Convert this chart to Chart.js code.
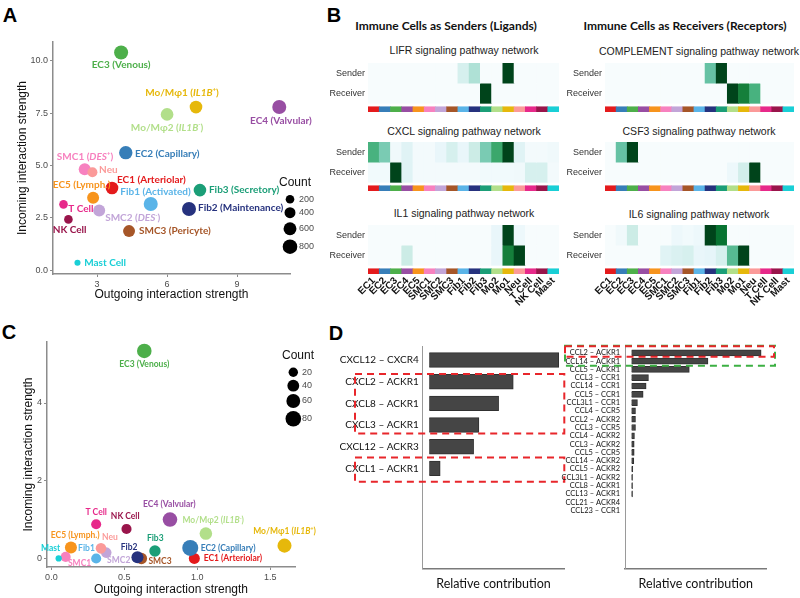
<!DOCTYPE html>
<html>
<head>
<meta charset="utf-8">
<script src="https://cdn.jsdelivr.net/npm/chart.js@4.4.1/dist/chart.umd.min.js"></script>
<style>
  body { margin: 0; width: 800px; height: 598px; position: relative; overflow: hidden; background: #fff; font-family: "Liberation Sans", Arial, sans-serif; }
  canvas { position: absolute; }
  .txt { position: absolute; white-space: nowrap; transform: translate(-50%, -50%); line-height: 1; }
  .letter { font: bold 20px "Liberation Sans", Arial, sans-serif; color: #000; }
  .head { font: bold 12px Lato, sans-serif; color: #111; }
  .sub { font: 10.5px "Liberation Sans", Arial, sans-serif; color: #222; }
</style>
</head>
<body>
<div class="txt letter" style="left:10px;top:15px">A</div>
<div class="txt letter" style="left:334px;top:15px">B</div>
<div class="txt letter" style="left:9px;top:332px">C</div>
<div class="txt letter" style="left:336px;top:333px">D</div>

<div class="txt head" style="left:446px;top:25px">Immune Cells as Senders (Ligands)</div>
<div class="txt head" style="left:685px;top:25px">Immune Cells as Receivers (Receptors)</div>
<div class="txt sub" style="left:464px;top:50px">LIFR signaling pathway network</div>
<div class="txt sub" style="left:464px;top:131px">CXCL signaling pathway network</div>
<div class="txt sub" style="left:464px;top:213px">IL1 signaling pathway network</div>
<div class="txt sub" style="left:699px;top:51px">COMPLEMENT signaling pathway network</div>
<div class="txt sub" style="left:699px;top:131px">CSF3 signaling pathway network</div>
<div class="txt sub" style="left:699px;top:214px">IL6 signaling pathway network</div>

<canvas id="cA" width="330" height="275" style="left:0;top:30px"></canvas>
<canvas id="cC" width="330" height="268" style="left:0;top:330px"></canvas>
<canvas id="hLifr" width="239" height="49" style="left:320px;top:63px"></canvas>
<canvas id="hCxcl" width="239" height="49" style="left:320px;top:142px"></canvas>
<canvas id="hIl1" width="239" height="81" style="left:320px;top:225px"></canvas>
<canvas id="hComp" width="234" height="49" style="left:560px;top:63px"></canvas>
<canvas id="hCsf3" width="234" height="49" style="left:560px;top:142px"></canvas>
<canvas id="hIl6" width="234" height="81" style="left:560px;top:225px"></canvas>
<canvas id="dLeft" width="240" height="262" style="left:340px;top:336px"></canvas>
<canvas id="dRight" width="220" height="262" style="left:560px;top:336px"></canvas>

<script>
// cell types, shared by every panel
const cellNames = ['EC1','EC2','EC3','EC4','EC5','SMC1','SMC2','SMC3','Fib1','Fib2','Fib3','Mo2','Mo1','Neu','T Cell','NK Cell','Mast'];
const cellColors = ['#e41a1c','#377eb8','#4daf4a','#984ea3','#f7941d','#f781bf','#c2a5d8','#a65628','#5ab4e8','#26327e','#1b9e77','#b2df8a','#e6b80b','#fb9a99','#e7298a','#99154b','#19cfd6'];

// panel A : all cells
const labelsA = ['EC1 (Arteriolar)','EC2 (Capillary)','EC3 (Venous)','EC4 (Valvular)','EC5 (Lymph.)','SMC1 (_DES_^+)','SMC2 (_DES_^-)','SMC3 (Pericyte)','Fib1 (Activated)','Fib2 (Maintenance)','Fib3 (Secretory)','Mo/Mφ2 (_IL1B_^-)','Mo/Mφ1 (_IL1B_^+)','Neu','T Cell','NK Cell','Mast Cell'];
const outgoingA = [3.64, 4.23, 4.03, 10.81, 2.83, 2.47, 3.09, 4.37, 5.30, 6.94, 7.41, 6.00, 7.24, 2.80, 1.56, 1.77, 2.16];
const incomingA = [3.92, 5.61, 10.40, 7.79, 3.46, 4.82, 2.85, 1.86, 3.16, 2.92, 3.82, 7.44, 7.79, 4.67, 3.14, 2.42, 0.35];
const countA = [570, 650, 730, 730, 500, 500, 500, 500, 730, 730, 570, 570, 570, 310, 200, 200, 40];
const countLegendA = [200, 400, 600, 800];
const xTicksA = [3, 6, 9];
const yTicksA = [0, 2.5, 5, 7.5, 10];

// panel C : CXCL/CCL subset
const labelsC = ['EC1 (Arteriolar)','EC2 (Capillary)','EC3 (Venous)','EC4 (Valvular)','EC5 (Lymph.)','SMC1','SMC2','SMC3','Fib1','Fib2','Fib3','Mo/Mφ2 (_IL1B_^-)','Mo/Mφ1 (_IL1B_^+)','Neu','T Cell','NK Cell','Mast'];
const outgoingC = [0.98, 0.952, 0.637, 0.813, 0.134, 0.098, 0.376, 0.617, 0.307, 0.59, 0.71, 1.059, 1.598, 0.34, 0.307, 0.515, 0.05];
const incomingC = [0.0, 0.27, 5.34, 1.0, 0.28, 0.04, 0.15, 0.0, 0.0, 0.03, 0.19, 0.64, 0.33, 0.26, 0.88, 0.76, 0.0];
const countC = [33, 85, 68, 68, 42, 25, 29, 36, 25, 42, 36, 47, 62, 29, 25, 25, 1];
const countLegendC = [20, 40, 60, 80];
const xTicksC = [0, 0.5, 1, 1.5];
const yTicksC = [0, 2, 4];

// panel B : relative strength per cell, sender row and receiver row
const lifrSender   = [0,0,0,0,0,0,0,0,0.2,0.32,0,0,1,0,0,0,0];
const lifrReceiver = [0,0,0,0,0,0,0,0,0,0,1,0,0,0,0,0,0];
const cxclSender   = [0.6,0.45,0.05,0.15,0.03,0.03,0.1,0.2,0.1,0.25,0.45,0.65,1,0.15,0.03,0.03,0.05];
const cxclReceiver = [0.04,0.04,1,0.15,0.03,0.03,0.03,0.03,0.03,0.03,0.04,0.04,0.04,0.05,0.2,0.2,0.03];
const il1Sender    = [0,0,0,0,0,0,0,0,0,0,0,0.1,1,0.07,0,0,0];
const il1Receiver  = [0,0,0,0.25,0,0,0,0,0,0,0,0.1,0.8,1,0,0,0];
const compSender   = [0,0,0,0,0,0,0,0,0,0.5,1,0,0,0,0,0,0];
const compReceiver = [0,0,0,0,0,0,0,0,0,0,0,1,0.8,0.6,0,0,0];
const csf3Sender   = [0,0.5,1,0,0,0,0,0,0,0,0,0,0,0,0,0,0];
const csf3Receiver = [0,0,0,0,0,0,0,0,0,0,0,0.07,0.22,1,0,0,0];
const il6Sender    = [0,0.05,0.25,0,0,0,0.07,0.04,0.07,1,0.85,0,0,0,0,0,0];
const il6Receiver  = [0,0,0,0,0,0.15,0.18,0.2,0.1,0.12,0.2,0.55,1,0,0,0,0];

// panel D : ligand-receptor pairs
const cxclPairs = ['CXCL12 – CXCR4','CXCL2 – ACKR1','CXCL8 – ACKR1','CXCL3 – ACKR1','CXCL12 – ACKR3','CXCL1 – ACKR1'];
const cxclContrib = [1.0, 0.649, 0.536, 0.384, 0.343, 0.085];
const cclPairs = ['CCL2 – ACKR1','CCL14 – ACKR1','CCL5 – ACKR1','CCL3 – CCR1','CCL14 – CCR1','CCL5 – CCR1','CCL3L1 – CCR1','CCL4 – CCR5','CCL2 – ACKR2','CCL3 – CCR5','CCL4 – ACKR2','CCL3 – ACKR2','CCL5 – CCR5','CCL14 – ACKR2','CCL5 – ACKR2','CCL3L1 – ACKR2','CCL8 – ACKR1','CCL13 – ACKR1','CCL21 – ACKR4','CCL23 – CCR1'];
const cclContrib = [1.0, 0.59, 0.446, 0.131, 0.113, 0.09, 0.046, 0.031, 0.031, 0.031, 0.023, 0.021, 0.021, 0.018, 0.01, 0.008, 0.008, 0.008, 0, 0];

// label placement next to each bubble: dx, dy, align
const tagA = [[5,-8.6,'left'],[9.3,0.7,'left'],[0,12.7,'center'],[1.7,13.7,'center'],[-11.5,-13.3,'center'],[0.3,-12.7,'center'],[6,7.3,'left'],[10,0,'left'],[4.8,-12.6,'center'],[9,-1.3,'left'],[9,0,'left'],[0,13,'center'],[-14,-14.7,'center'],[6.7,-3,'left'],[4.7,4.3,'left'],[1.2,10,'center'],[6.7,0,'left']];
const tagC = [[9.3,0,'left'],[10.4,0,'left'],[0,13.6,'center'],[-0.7,-15.6,'center'],[4.3,-12.6,'center'],[13.9,6.6,'center'],[12.5,8,'center'],[7,2.4,'left'],[-9.7,-10.3,'center'],[-8.3,-10.3,'center'],[0.3,-13.3,'center'],[7.3,-13,'center'],[0,-14.6,'center'],[9,-11,'center'],[0,-12,'center'],[-1.3,-12.7,'center'],[-8,-10,'center']];

const radiusA = c => Math.sqrt(6.9 + 0.058 * c);
const radiusC = c => Math.sqrt(9.2 + 0.645 * c);

// BuGn colour ramp
const bugn = ['#f7fcfd','#e5f5f9','#ccece6','#99d8c9','#66c2a4','#41ae76','#238b45','#006d2c','#00441b'];
function hexRgb(c) { return [1, 3, 5].map(i => parseInt(c.substr(i, 2), 16)); }
function heatColor(v) {
  const t = Math.max(0, Math.min(1, v)) * (bugn.length - 1);
  const i = Math.min(Math.floor(t), bugn.length - 2);
  const f = t - i;
  const a = hexRgb(bugn[i]), b = hexRgb(bugn[i + 1]);
  return 'rgb(' + a.map((x, k) => Math.round(x + (b[k] - x) * f)).join(',') + ')';
}

// labels with _italic_ and ^superscript parts
function parseRich(s) {
  const segs = [];
  let it = false, cur = '';
  for (let i = 0; i < s.length; i++) {
    const ch = s[i];
    if (ch === '_') { if (cur) segs.push({ t: cur, it }); cur = ''; it = !it; }
    else if (ch === '^') { if (cur) segs.push({ t: cur, it }); cur = ''; segs.push({ t: s[++i], it, sup: true }); }
    else cur += ch;
  }
  if (cur) segs.push({ t: cur, it });
  return segs;
}
function drawRich(ctx, s, x, y, align, size, color) {
  const segs = parseRich(s);
  const fontOf = g => (g.it ? 'italic ' : '') + 'bold ' + (g.sup ? size * 0.6 : size) + 'px Lato';
  let w = 0;
  segs.forEach(g => { ctx.font = fontOf(g); g.w = ctx.measureText(g.t).width; w += g.w; });
  let cx = align === 'left' ? x : x - w / 2;
  ctx.fillStyle = color;
  ctx.textAlign = 'left';
  ctx.textBaseline = 'middle';
  segs.forEach(g => { ctx.font = fontOf(g); ctx.fillText(g.t, cx, g.sup ? y - size * 0.3 : y); cx += g.w; });
}

// keep tick labels from shrinking the plot area
function noEdgePad(s) { s.paddingTop = 0; s.paddingBottom = 0; s.paddingLeft = 0; s.paddingRight = 0; }

function bubblePanel(id, opt) {
  const pointLabels = {
    id: 'pointLabels',
    afterDatasetsDraw(chart) {
      const ctx = chart.ctx;
      const pts = chart.getDatasetMeta(0).data;
      ctx.save();
      opt.labels.forEach((l, i) => {
        const p = opt.tags[i];
        drawRich(ctx, l, pts[i].x + p[0], pts[i].y + p[1], p[2], opt.labelSize, cellColors[i]);
      });
      ctx.restore();
    }
  };
  const sizeLegend = {
    id: 'sizeLegend',
    afterDraw(chart) {
      const ctx = chart.ctx;
      const L = opt.legend;
      ctx.save();
      ctx.fillStyle = '#111';
      ctx.font = '12px "Liberation Sans"';
      ctx.textAlign = 'center';
      ctx.textBaseline = 'middle';
      ctx.fillText('Count', L.titleX, L.titleY);
      L.values.forEach((v, i) => {
        ctx.beginPath();
        ctx.arc(L.x, L.ys[i], opt.radius(v), 0, Math.PI * 2);
        ctx.fillStyle = '#000';
        ctx.fill();
        ctx.fillStyle = '#4d4d4d';
        ctx.font = '9px "Liberation Sans"';
        ctx.textAlign = 'left';
        ctx.fillText(String(v), L.labelX, L.ys[i]);
      });
      ctx.restore();
    }
  };
  const axisGrid = { display: true, drawOnChartArea: false, drawTicks: true, tickLength: 3, color: '#8c8c8c' };
  const tickFont = { family: 'Liberation Sans', size: 9 };
  new Chart(document.getElementById(id), {
    type: 'bubble',
    data: {
      datasets: [{
        data: opt.x.map((v, i) => ({ x: v, y: opt.y[i], r: opt.radius(opt.count[i]) })),
        backgroundColor: cellColors,
        borderWidth: 0
      }]
    },
    options: {
      responsive: false,
      animation: false,
      layout: { padding: opt.padding },
      plugins: { legend: { display: false }, tooltip: { enabled: false } },
      scales: {
        x: {
          type: 'linear', min: opt.xRange[0], max: opt.xRange[1],
          afterBuildTicks: s => { s.ticks = opt.xTicks.map(v => ({ value: v })); },
          ticks: { callback: opt.xFmt, font: tickFont, color: '#4d4d4d', padding: 2 },
          grid: axisGrid,
          border: { color: '#8c8c8c', width: 1.5 },
          title: { display: true, text: 'Outgoing interaction strength', font: { family: 'Liberation Sans', size: 12 }, color: '#111', padding: { top: 0, bottom: opt.xTitlePad } },
          afterFit: s => { s.height = opt.xH; noEdgePad(s); }
        },
        y: {
          type: 'linear', min: opt.yRange[0], max: opt.yRange[1],
          afterBuildTicks: s => { s.ticks = opt.yTicks.map(v => ({ value: v })); },
          ticks: { callback: opt.yFmt, font: tickFont, color: '#4d4d4d', padding: 2 },
          grid: axisGrid,
          border: { color: '#8c8c8c', width: 1.5 },
          title: { display: true, text: 'Incoming interaction strength', font: { family: 'Liberation Sans', size: 12 }, color: '#111', padding: { top: opt.yTitlePad, bottom: 0 } },
          afterFit: s => { s.width = opt.yW; noEdgePad(s); }
        }
      }
    },
    plugins: [pointLabels, sizeLegend]
  });
}

function heatmap(id, sender, receiver, yW, withNames) {
  new Chart(document.getElementById(id), {
    type: 'bar',
    data: {
      labels: cellNames,
      datasets: [
        { data: sender.map(() => [1, 2]), backgroundColor: sender.map(heatColor) },
        { data: receiver.map(() => [0, 1]), backgroundColor: receiver.map(heatColor) },
        { data: cellNames.map(() => [-0.43, -0.17]), backgroundColor: cellColors }
      ]
    },
    options: {
      responsive: false,
      animation: false,
      datasets: { bar: { grouped: false, barPercentage: 1, categoryPercentage: 1, borderWidth: 0 } },
      plugins: { legend: { display: false }, tooltip: { enabled: false } },
      scales: {
        x: {
          display: withNames,
          grid: { display: false, drawTicks: false },
          border: { display: false },
          ticks: { minRotation: 45, maxRotation: 45, autoSkip: false, padding: 1, color: '#111', font: { family: 'Liberation Sans', size: 10, weight: 'bold' } },
          afterFit: s => { s.height = withNames ? 32 : 0; noEdgePad(s); }
        },
        y: {
          type: 'linear', min: -0.43, max: 2,
          grid: { display: false, drawTicks: false },
          border: { display: false },
          afterBuildTicks: s => { s.ticks = [{ value: 0.5 }, { value: 1.5 }]; },
          ticks: { callback: v => (v > 1 ? 'Sender' : 'Receiver'), padding: 3, color: '#333', font: { family: 'Liberation Sans', size: 9 } },
          afterFit: s => { s.width = yW; noEdgePad(s); }
        }
      }
    }
  });
}

function contribChart(id, pairs, vals, opt) {
  const boxes = {
    id: 'boxes',
    afterDraw(chart) {
      const ctx = chart.ctx;
      const ys = chart.scales.y;
      ctx.save();
      ctx.lineWidth = 2;
      ctx.setLineDash([7, 5]);
      opt.boxes.forEach(b => {
        const y0 = ys.getPixelForValue(b.from), y1 = ys.getPixelForValue(b.to);
        ctx.strokeStyle = b.color;
        ctx.strokeRect(b.x0, y0, b.x1 - b.x0, y1 - y0);
      });
      ctx.restore();
    }
  };
  new Chart(document.getElementById(id), {
    type: 'bar',
    data: {
      datasets: [{
        data: vals.map((v, i) => ({ x: v, y: i })),
        backgroundColor: '#454545',
        borderColor: '#303030',
        borderWidth: 1,
        barThickness: opt.thick
      }]
    },
    options: {
      indexAxis: 'y',
      responsive: false,
      animation: false,
      layout: { padding: { top: 10.7, right: opt.padRight, left: 0, bottom: 0 } },
      plugins: { legend: { display: false }, tooltip: { enabled: false } },
      scales: {
        x: {
          type: 'linear', min: -0.05, max: 1.043,
          ticks: { display: false },
          grid: { display: false, drawTicks: false },
          border: { color: '#7a7a7a', width: 1.5 },
          title: { display: true, text: 'Relative contribution', font: { family: 'Lato', size: 12.5 }, color: '#111', padding: { top: 0, bottom: 6.5 } },
          afterFit: s => { s.height = 29.7; noEdgePad(s); }
        },
        y: {
          type: 'linear', reverse: true, offset: false, min: opt.yRange[0], max: opt.yRange[1],
          afterBuildTicks: s => { s.ticks = pairs.map((p, i) => ({ value: i })); },
          ticks: { callback: v => pairs[v], autoSkip: false, padding: opt.tickPad, color: '#111', font: { family: 'Lato', size: opt.fontSize } },
          grid: { display: false, drawTicks: false, offset: false },
          border: { color: '#9a9a9a', width: 1 },
          afterFit: s => { s.width = opt.yW; noEdgePad(s); }
        }
      }
    },
    plugins: [boxes]
  });
}

bubblePanel('cA', {
  labels: labelsA, x: outgoingA, y: incomingA, count: countA, radius: radiusA, tags: tagA, labelSize: 10,
  xRange: [1.11, 11.27], yRange: [-0.19, 10.9], xTicks: xTicksA, yTicks: yTicksA,
  xFmt: v => String(v), yFmt: v => v.toFixed(1),
  padding: { top: 12, right: 40, left: 0, bottom: 0 }, xH: 31, yW: 53, xTitlePad: 3, yTitlePad: 15,
  legend: { values: countLegendA, x: 290, ys: [169.3, 182.7, 198.7, 216.7], labelX: 299, titleX: 295, titleY: 152.7 }
});

bubblePanel('cC', {
  labels: labelsC, x: outgoingC, y: incomingC, count: countC, radius: radiusC, tags: tagC, labelSize: 8.5,
  xRange: [-0.03, 1.67], yRange: [-0.22, 5.57], xTicks: xTicksC, yTicks: yTicksC,
  xFmt: v => v.toFixed(1), yFmt: v => String(v),
  padding: { top: 12, right: 35, left: 0, bottom: 0 }, xH: 31, yW: 47, xTitlePad: 1, yTitlePad: 21.8,
  legend: { values: countLegendC, x: 293.3, ys: [42.3, 55.7, 71, 88.7], labelX: 302, titleX: 298, titleY: 25.7 }
});

heatmap('hLifr', lifrSender, lifrReceiver, 48, false);
heatmap('hCxcl', cxclSender, cxclReceiver, 48, false);
heatmap('hIl1', il1Sender, il1Receiver, 48, true);
heatmap('hComp', compSender, compReceiver, 45, false);
heatmap('hCsf3', csf3Sender, csf3Receiver, 45, false);
heatmap('hIl6', il6Sender, il6Receiver, 45, true);

contribChart('dLeft', cxclPairs, cxclContrib, {
  thick: 14.7, padRight: 15.7, yW: 82.7, fontSize: 10, tickPad: 4, yRange: [-0.615, 9.61],
  boxes: [
    { from: 1 - 0.36, to: 3 + 0.39, x0: 15, x1: 224.3, color: '#e8262b' },
    { from: 5 - 0.5, to: 5 + 0.62, x0: 15, x1: 224.3, color: '#e8262b' }
  ]
});

contribChart('dRight', cclPairs, cclContrib, {
  thick: 6, padRight: 13.3, yW: 65, fontSize: 7.5, tickPad: 5, yRange: [-0.735, 25.96],
  boxes: [
    { from: 0 - 0.85, to: 1 + 0.55, x0: 5, x1: 215, color: '#3cb043' },
    { from: 0 - 0.8, to: 0 + 0.47, x0: 5, x1: 214, color: '#e8262b' }
  ]
});
</script>
</body>
</html>
